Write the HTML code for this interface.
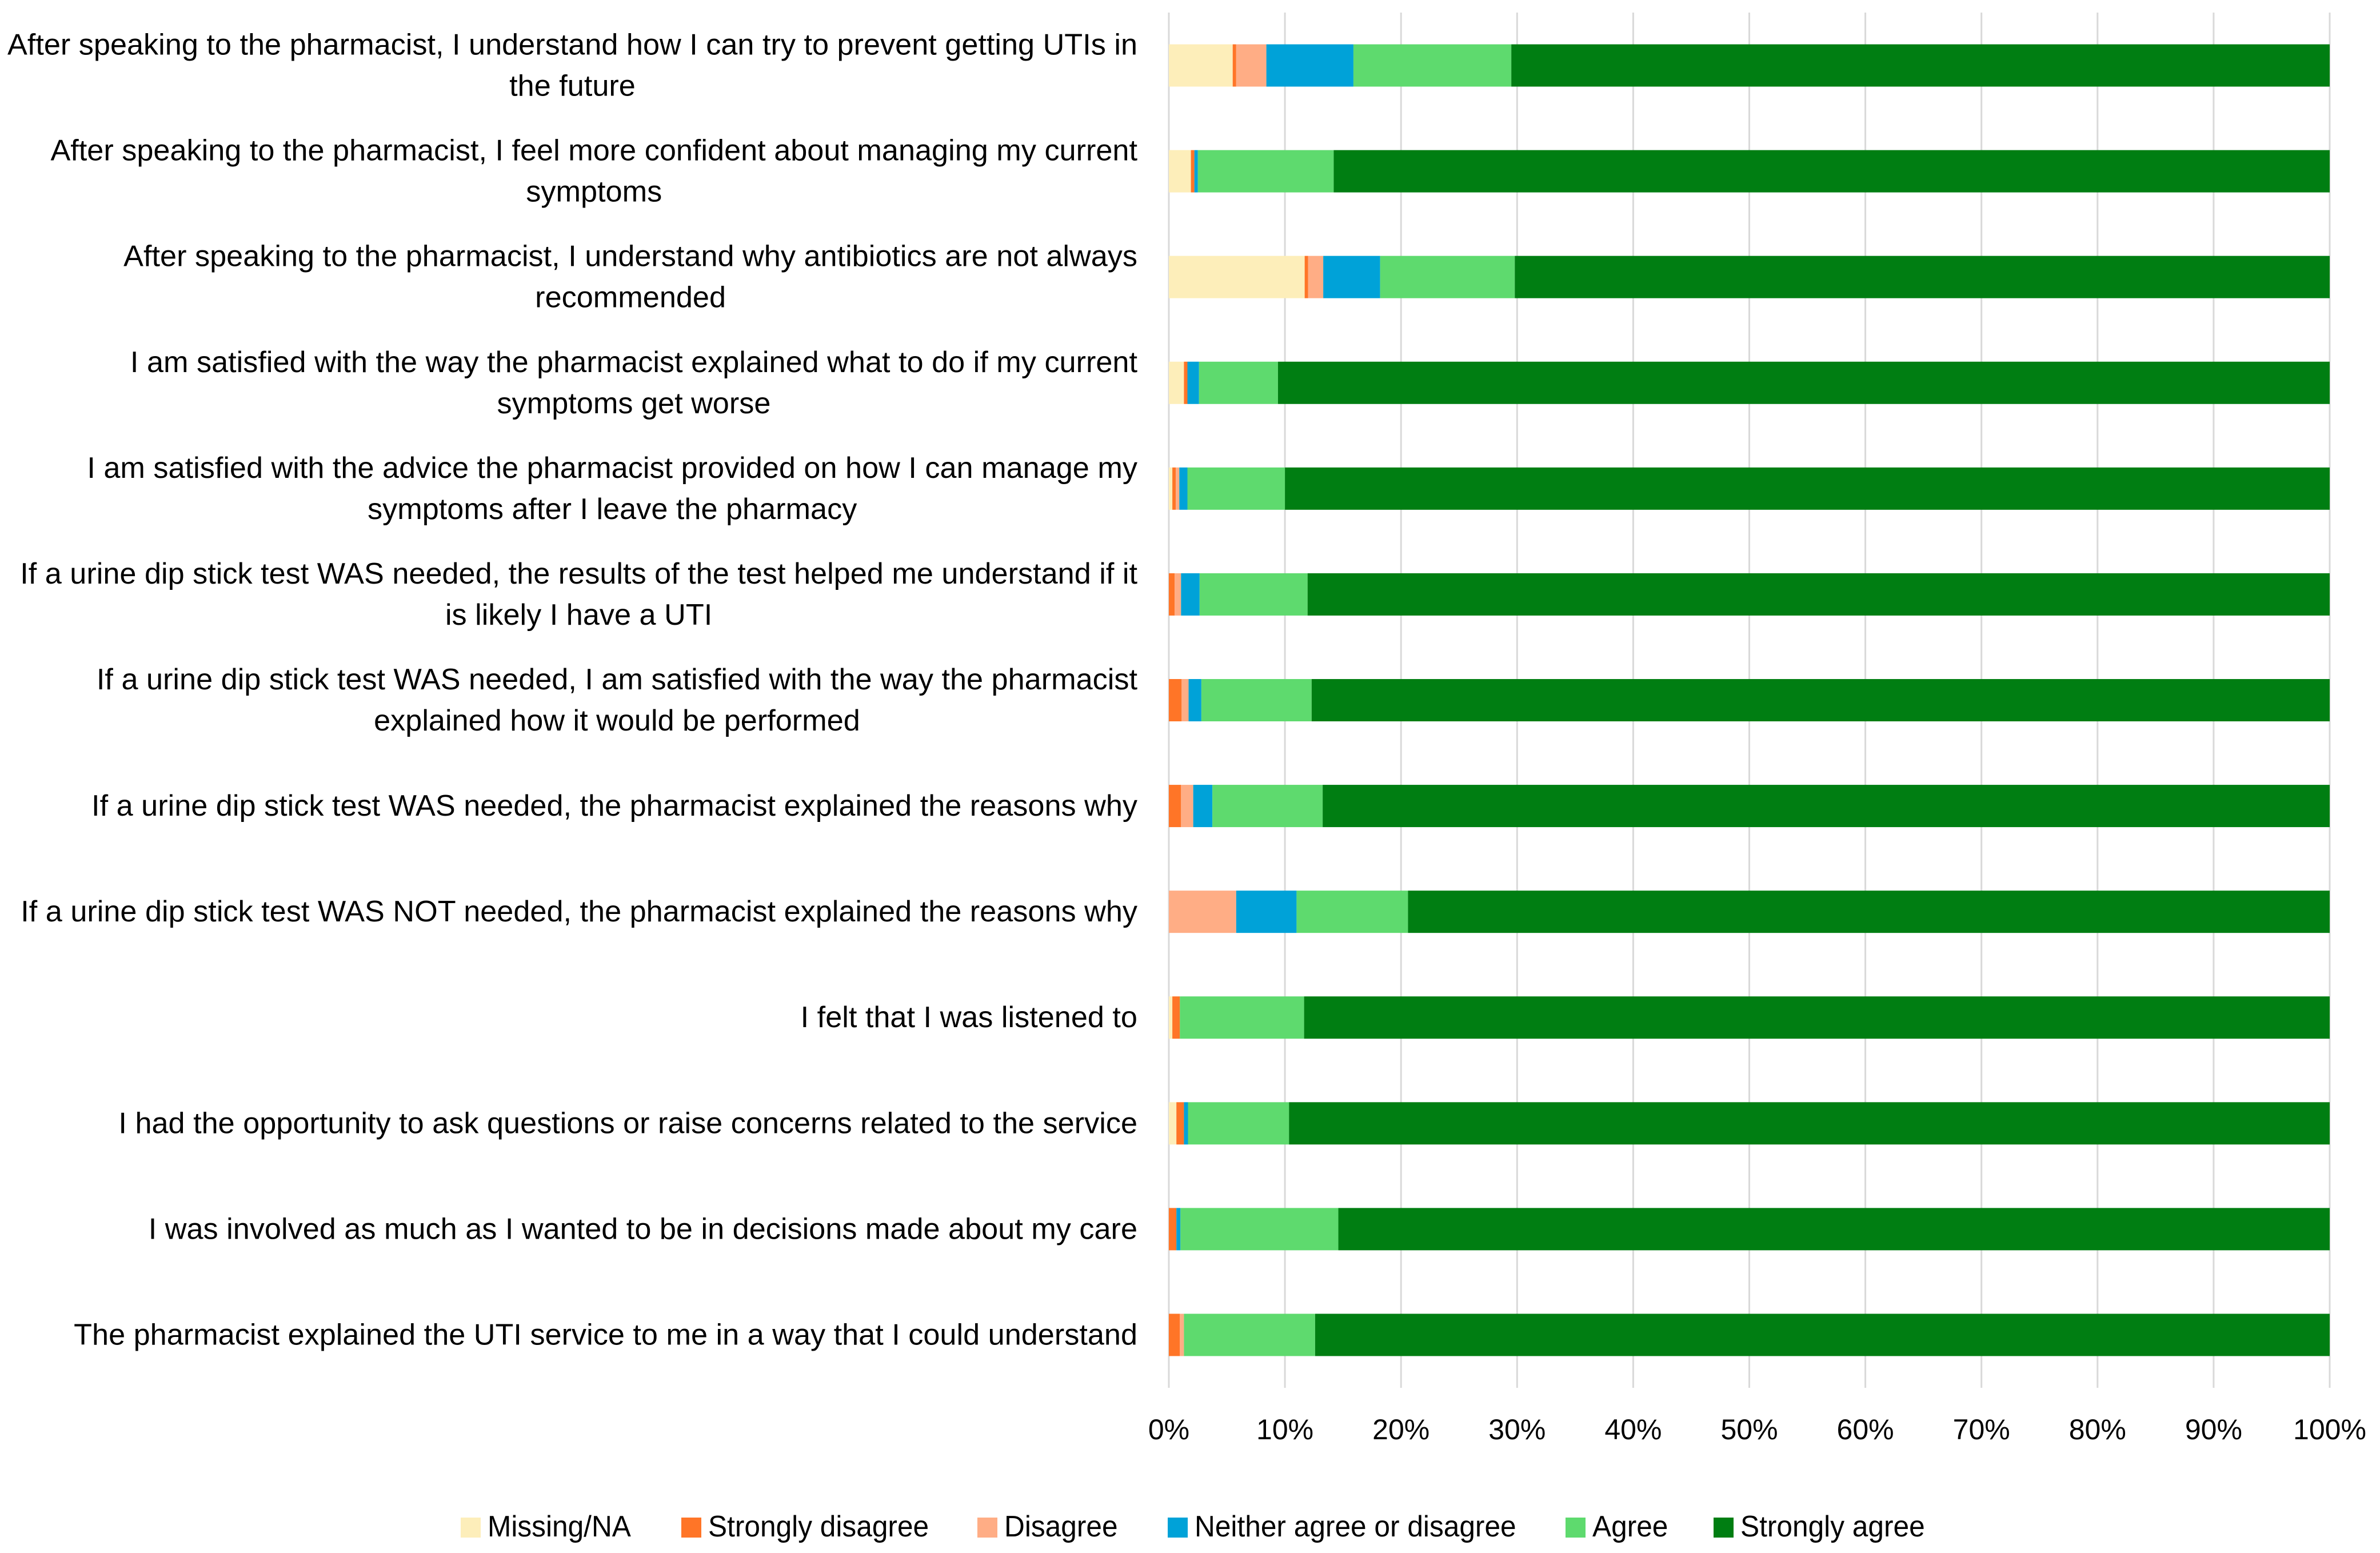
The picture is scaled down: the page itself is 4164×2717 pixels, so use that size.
<!DOCTYPE html>
<html><head><meta charset="utf-8"><style>
html,body{margin:0;padding:0;background:#fff;}
svg{display:block;font-family:"Liberation Sans",sans-serif;}
</style></head><body>
<svg id="chart" width="4164" height="2717" viewBox="0 0 4164 2717">
<g id="grid"></g>
<g id="bars"></g>
<g id="ylabels"></g>
<g id="xlabels"></g>
<g id="legend"></g>
</svg>
<script>
const categories = [
 ["After speaking to the pharmacist, I understand how I can try to prevent getting UTIs in","the future"],
 ["After speaking to the pharmacist, I feel more confident about managing my current","symptoms"],
 ["After speaking to the pharmacist, I understand why antibiotics are not always","recommended"],
 ["I am satisfied with the way the pharmacist explained what to do if my current","symptoms get worse"],
 ["I am satisfied with the advice the pharmacist provided on how I can manage my","symptoms after I leave the pharmacy"],
 ["If a urine dip stick test WAS needed, the results of the test helped me understand if it","is likely I have a UTI"],
 ["If a urine dip stick test WAS needed, I am satisfied with the way the pharmacist","explained how it would be performed"],
 ["If a urine dip stick test WAS needed, the pharmacist explained the reasons why"],
 ["If a urine dip stick test WAS NOT needed, the pharmacist explained the reasons why"],
 ["I felt that I was listened to"],
 ["I had the opportunity to ask questions or raise concerns related to the service"],
 ["I was involved as much as I wanted to be in decisions made about my care"],
 ["The pharmacist explained the UTI service to me in a way that I could understand"]
];
const missing  = [5.5, 1.9, 11.7, 1.3, 0.3, 0,   0,   0,   0,   0.3, 0.65, 0,    0];
const strongDis= [0.3, 0.3, 0.3,  0.3, 0.3, 0.5, 1.1, 1.05,0,   0.65,0.65, 0.65, 0.95];
const disagree = [2.6, 0,   1.3,  0,   0.3, 0.55,0.6, 1.05,5.8, 0,   0,    0,    0.35];
const neither  = [7.5, 0.3, 4.9,  1.0, 0.7, 1.6, 1.1, 1.65,5.2, 0,   0.35, 0.35, 0];
const agree    = [13.6,11.7,11.6, 6.8, 8.4, 9.3, 9.5, 9.5, 9.6, 10.7,8.7,  13.6, 11.3];
const series = [missing, strongDis, disagree, neither, agree];
const seriesNames = ["Missing/NA","Strongly disagree","Disagree","Neither agree or disagree","Agree","Strongly agree"];
const colors = ["#FDEEBA","#FF7527","#FFAD85","#00A2D8","#5EDA6E","#007E12"];
const ticks = [0,10,20,30,40,50,60,70,80,90,100];
const tickLabels = ["0%","10%","20%","30%","40%","50%","60%","70%","80%","90%","100%"];

const NS="http://www.w3.org/2000/svg";
const X0=2045, X1=4076, Y0=22, Y1=2428;
const band=(Y1-Y0)/categories.length, barH=74;
const xs=v=>X0+(X1-X0)*v/100;
const yc=i=>Y0+band*(i+0.5);
function mk(tag,attrs,parent){const e=document.createElementNS(NS,tag);for(const k in attrs)e.setAttribute(k,attrs[k]);parent.appendChild(e);return e;}

const grid=document.getElementById('grid');
ticks.forEach((t,i)=>{
  const l=mk('line',{x1:xs(t),x2:xs(t),y1:Y0,y2:Y1,stroke:'#d9d9d9','stroke-width':3},grid);
  
  
  const tx=mk('text',{x:xs(t),y:2518,'text-anchor':'middle','font-size':50,fill:'#000'},document.getElementById('xlabels'));
  tx.textContent=tickLabels[i];
  
  
});

const bars=document.getElementById('bars');
categories.forEach((c,i)=>{
  let cum=0;
  for(let s=0;s<6;s++){
    let v = s<5 ? series[s][i] : Math.max(0,100-cum);
    if(v>0){
      const r=mk('rect',{x:xs(cum),y:yc(i)-barH/2,width:xs(cum+v)-xs(cum),height:barH,fill:colors[s]},bars);
      
      
    }
    cum+=v;
  }
});

const RIGHT=1990;
const yl=document.getElementById('ylabels');
const rows=[];
categories.forEach((lines,i)=>{
  const n=lines.length, lh=72;
  const row=[];
  lines.forEach((ln,j)=>{
    const y=yc(i)+(j-(n-1)/2)*lh+17;
    const t=mk('text',{x:RIGHT,y:y,'text-anchor':j===0?'end':'middle','font-size':52,fill:'#000'},yl);
    t.textContent=ln;
    
    
    row.push(t);
  });
  rows.push(row);
});
const ref=rows[0][0].getComputedTextLength();
const k=1977/ref;
rows.forEach(row=>{
  let w0=0;
  row.forEach((t,j)=>{
    const L=t.getComputedTextLength()*k;
    t.setAttribute('textLength',L);t.setAttribute('lengthAdjust','spacingAndGlyphs');
    if(j===0) w0=L; else t.setAttribute('x',RIGHT-w0/2);
  });
});

const lg=document.getElementById('legend');
const lx=[806,1192,1710,2043,2739,2998];
seriesNames.forEach((nm,s)=>{
  const r=mk('rect',{x:lx[s],y:2655,width:35,height:35,fill:colors[s]},lg);
  
  
  const t=mk('text',{x:lx[s]+47,y:2688,'font-size':52,fill:'#000'},lg);
  t.textContent=nm;
  
  
  const L=t.getComputedTextLength();t.setAttribute('textLength',L*k*0.95);t.setAttribute('lengthAdjust','spacingAndGlyphs');
});
</script>
</body></html>
